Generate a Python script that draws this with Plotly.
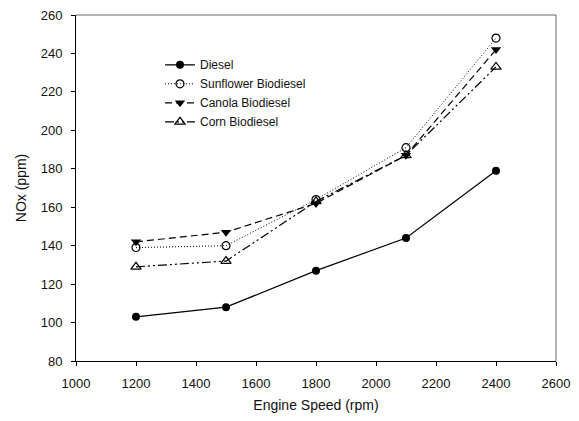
import plotly.graph_objects as go

speed = [1200, 1500, 1800, 2100, 2400]
diesel = [103, 108, 127, 144, 179]
sunflower = [139, 140, 164, 191, 248]
canola = [142, 147, 162, 187, 242]
corn = [129, 132, 163, 187, 233]

x_ticks = [1000, 1200, 1400, 1600, 1800, 2000, 2200, 2400, 2600]
y_ticks = [80, 100, 120, 140, 160, 180, 200, 220, 240, 260]

fig = go.Figure()
common_line = dict(color="black", width=1.2)
fig.add_trace(go.Scatter(x=speed, y=diesel, name="Diesel", mode="lines+markers",
                         line=dict(common_line, dash="solid"),
                         marker=dict(symbol="circle", size=8, color="black")))
fig.add_trace(go.Scatter(x=speed, y=sunflower, name="Sunflower Biodiesel", mode="lines+markers",
                         line=dict(color="black", width=1, dash="1px,2px"),
                         marker=dict(symbol="circle-open", size=8, color="black", line=dict(width=1.2))))
fig.add_trace(go.Scatter(x=speed, y=canola, name="Canola Biodiesel", mode="lines+markers",
                         line=dict(common_line, dash="7px,4px"),
                         marker=dict(symbol="triangle-down", size=9, color="black")))
fig.add_trace(go.Scatter(x=speed, y=corn, name="Corn Biodiesel", mode="lines+markers",
                         line=dict(common_line, dash="9px,3px,2px,3px,2px,3px"),
                         marker=dict(symbol="triangle-up-open", size=9, color="black", line=dict(width=1.2))))

# page body has an 8px margin, so the figure is shrunk by 8px
fig.update_layout(
    width=571, height=413,
    margin=dict(l=68, r=23, t=7, b=60),
    paper_bgcolor="white", plot_bgcolor="white",
    font=dict(family="Arial, Liberation Sans, sans-serif", size=13, color="#111"),
    showlegend=True,
    legend=dict(x=0.175, y=0.898, xanchor="left", yanchor="top",
                bgcolor="rgba(0,0,0,0)", font=dict(size=12), tracegroupgap=0),
    shapes=[
        dict(type="line", xref="paper", yref="paper", x0=0, x1=1, y0=1, y1=1,
             line=dict(color="#666", width=1)),
        dict(type="line", xref="paper", yref="paper", x0=1, x1=1, y0=0, y1=1,
             line=dict(color="#666", width=1)),
    ],
)
fig.update_xaxes(range=[1000, 2600], tickvals=x_ticks, ticks="outside", ticklen=4,
                 tickcolor="black", showline=True, linecolor="black", linewidth=1,
                 showgrid=False, zeroline=False, ticklabelstandoff=6,
                 ticklabeloverflow="allow", automargin=False,
                 title=dict(text="Engine Speed (rpm)", font=dict(size=14), standoff=10))
fig.update_yaxes(range=[80, 260], tickvals=y_ticks, ticks="outside", ticklen=4,
                 tickcolor="black", showline=True, linecolor="black", linewidth=1,
                 showgrid=False, zeroline=False, ticklabelstandoff=6,
                 ticklabeloverflow="allow", automargin=False,
                 title=dict(text="NOx (ppm)", font=dict(size=14), standoff=10))

fig.write_html("out.html")
